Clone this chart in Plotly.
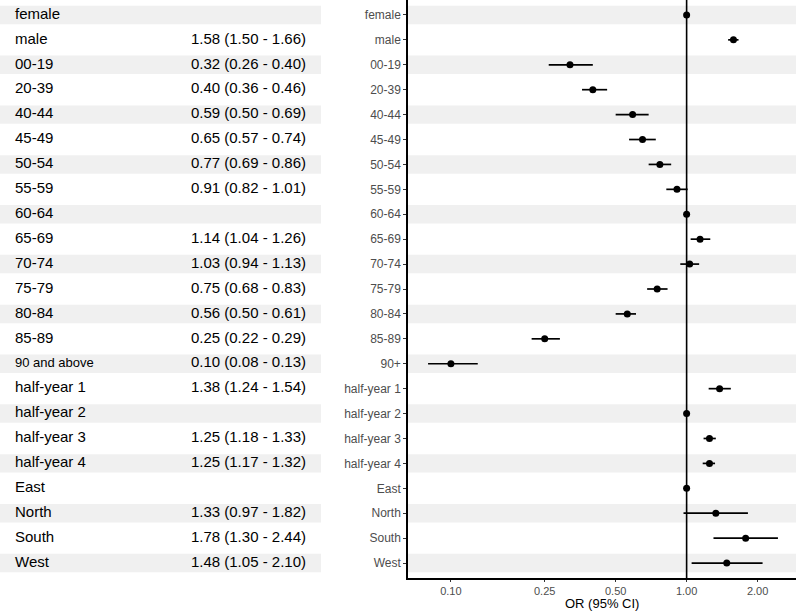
import plotly.graph_objects as go

table_labels = ["female", "male", "00-19", "20-39", "40-44", "45-49", "50-54", "55-59",
                "60-64", "65-69", "70-74", "75-79", "80-84", "85-89", "90 and above",
                "half-year 1", "half-year 2", "half-year 3", "half-year 4",
                "East", "North", "South", "West"]
axis_labels = ["female", "male", "00-19", "20-39", "40-44", "45-49", "50-54", "55-59",
               "60-64", "65-69", "70-74", "75-79", "80-84", "85-89", "90+",
               "half-year 1", "half-year 2", "half-year 3", "half-year 4",
               "East", "North", "South", "West"]
odds_ratio = [1.00, 1.58, 0.32, 0.40, 0.59, 0.65, 0.77, 0.91,
              1.00, 1.14, 1.03, 0.75, 0.56, 0.25, 0.10,
              1.38, 1.00, 1.25, 1.25,
              1.00, 1.33, 1.78, 1.48]
ci_low = [None, 1.50, 0.26, 0.36, 0.50, 0.57, 0.69, 0.82,
          None, 1.04, 0.94, 0.68, 0.50, 0.22, 0.08,
          1.24, None, 1.18, 1.17,
          None, 0.97, 1.30, 1.05]
ci_high = [None, 1.66, 0.40, 0.46, 0.69, 0.74, 0.86, 1.01,
           None, 1.26, 1.13, 0.83, 0.61, 0.29, 0.13,
           1.54, None, 1.33, 1.32,
           None, 1.82, 2.44, 2.10]
reference_rows = ["female", "60-64", "half-year 2", "East"]
x_ticks = [0.10, 0.25, 0.50, 1.00, 2.00]

n = len(table_labels)
rows = list(range(n))

or_text = []
for lab, o, lo, hi in zip(table_labels, odds_ratio, ci_low, ci_high):
    if lab in reference_rows or lo is None:
        or_text.append("")
    else:
        or_text.append(f"{o:.2f} ({lo:.2f} - {hi:.2f})")

err_plus = [(hi - o) if hi is not None else 0 for o, hi in zip(odds_ratio, ci_high)]
err_minus = [(o - lo) if lo is not None else 0 for o, lo in zip(odds_ratio, ci_low)]

W, H = 796, 611
left_w = 321
plot_x0 = 408

fig = go.Figure()

font = "Liberation Sans, Arial, sans-serif"

# Table text
fig.add_trace(go.Scatter(
    x=[15] * n, y=rows, text=table_labels, mode="text",
    textposition="middle right",
    textfont=dict(family=font, color="black",
                  size=[13 if l == "90 and above" else 15 for l in table_labels]),
    xaxis="x", yaxis="y", hoverinfo="skip", showlegend=False))
fig.add_trace(go.Scatter(
    x=[306] * n, y=rows, text=or_text, mode="text",
    textposition="middle left",
    textfont=dict(family=font, color="black", size=15),
    xaxis="x", yaxis="y", hoverinfo="skip", showlegend=False))

# Forest plot
fig.add_trace(go.Scatter(
    x=odds_ratio, y=rows, mode="markers",
    marker=dict(color="black", size=7),
    error_x=dict(type="data", symmetric=False, array=err_plus, arrayminus=err_minus,
                 color="black", thickness=1.7, width=0),
    xaxis="x2", yaxis="y2", hoverinfo="skip", showlegend=False))

shapes = []
for i in rows:
    if i % 2 == 0:
        shapes.append(dict(type="rect", xref="x domain", yref="y",
                           x0=0, x1=1, y0=i - 0.37, y1=i + 0.37,
                           fillcolor="#F0F0F0", line=dict(width=0), layer="below"))
        shapes.append(dict(type="rect", xref="x2 domain", yref="y2",
                           x0=0, x1=1, y0=i - 0.37, y1=i + 0.37,
                           fillcolor="#F0F0F0", line=dict(width=0), layer="below"))
shapes.append(dict(type="line", xref="x2", yref="y2 domain", x0=1, x1=1, y0=0, y1=1,
                   line=dict(color="black", width=1.6)))

yr = [n - 1 + 0.6, -0.6]
fig.update_layout(
    width=W, height=H,
    margin=dict(l=0, r=0, t=0, b=33, autoexpand=False),
    paper_bgcolor="white", plot_bgcolor="white",
    shapes=shapes,
    font=dict(family=font),
    xaxis=dict(domain=[0, left_w / W], range=[0, left_w], visible=False, fixedrange=True),
    yaxis=dict(range=yr, visible=False, fixedrange=True),
    xaxis2=dict(domain=[plot_x0 / W, 1], type="log", range=[-1.182, 0.464],
                tickvals=x_ticks, ticktext=[f"{v:.2f}" for v in x_ticks],
                tickfont=dict(size=11, color="#4D4D4D"),
                ticks="outside", ticklen=2, tickcolor="#333333",
                showgrid=False, zeroline=False,
                showline=True, linecolor="black", linewidth=1.5,
                anchor="y2", automargin=False),
    yaxis2=dict(domain=[0, 1], range=yr, anchor="x2",
                tickvals=rows, ticktext=axis_labels,
                tickfont=dict(size=12, color="#4D4D4D"),
                ticks="outside", ticklen=3, tickcolor="#333333",
                showgrid=False, zeroline=False, automargin=False,
                showline=True, linecolor="black", linewidth=1.5),
    annotations=[dict(text="OR (95% CI)", xref="x2 domain", yref="paper",
                      x=0.5, y=0, yshift=-25.5, xanchor="center", yanchor="middle",
                      borderpad=0,
                      showarrow=False, font=dict(size=13, color="black"))],
)

fig.write_html("out.html", config={"displayModeBar": False},
               post_script="document.body.style.margin='0';document.body.style.padding='0';")
